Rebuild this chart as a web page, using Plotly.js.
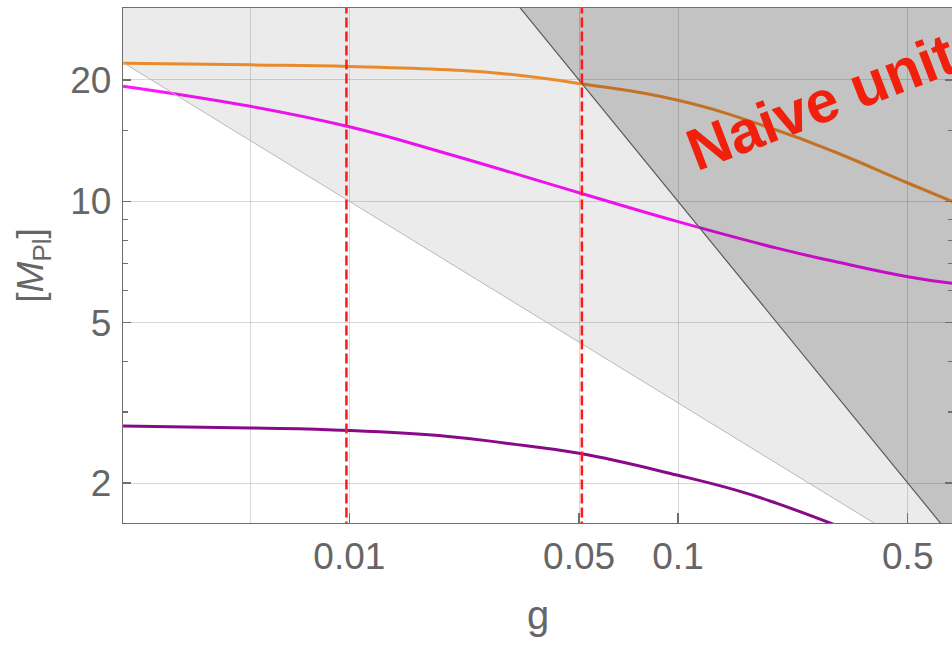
<!DOCTYPE html>
<html>
<head>
<meta charset="utf-8">
<script src="https://cdn.plot.ly/plotly-3.0.1.min.js"></script>
<style>
html, body { margin: 0; padding: 0; overflow: hidden; background: #fff; }
#chart { width: 953px; height: 645px; }
</style>
</head>
<body>
<div id="chart"></div>
<script>
// ---- data (g on x, mass in M_Pl on y, both log) ----
const gOrange = [0.00205, 0.005, 0.01, 0.02, 0.03, 0.05, 0.1, 0.2, 0.3, 0.5, 0.69];
const mOrange = [22.0, 21.8, 21.6, 21.2, 20.7, 19.6, 17.8, 15.0, 13.25, 11.1, 9.95];

const gMagenta = [0.00205, 0.005, 0.01, 0.02, 0.05, 0.1, 0.2, 0.3, 0.5, 0.69];
const mMagenta = [19.3, 17.2, 15.3, 13.1, 10.5, 8.9, 7.65, 7.09, 6.5, 6.25];

const gPurple = [0.00205, 0.005, 0.01, 0.02, 0.03, 0.05, 0.1, 0.15, 0.2, 0.3];
const mPurple = [2.77, 2.74, 2.70, 2.61, 2.51, 2.37, 2.09, 1.92, 1.78, 1.575];

// shaded-region boundaries (straight lines on log-log axes)
const lightEdgeG = [0.0019, 0.45];
const lightEdgeM = [22.94, 1.49];
const darkEdgeG = [0.03, 0.7];
const darkEdgeM = [33.3, 1.4286];
// outer corners (beyond the visible range, clipped)
const outerG = 0.8;
const outerMTop = 35;
const outerMBottom = 1.4;

// vertical dashed reference lines
const gMarks = [0.0098, 0.051];

// ticks
const xTickVals = [0.01, 0.05, 0.1, 0.5];
const xTickText = ['0.01', '0.05', '0.1', '0.5'];
const xGridOnly = [0.005];
const yTickVals = [2, 5, 10, 20];
const yTickText = ['2', '5', '10', '20'];
const yMinorVals = [3, 4, 6, 7, 8, 9, 15];

const FONT = 'Liberation Sans, Arial, Helvetica, sans-serif';
const GREY = '#666666';

const traces = [];
traces.push({x: gOrange, y: mOrange, mode: 'lines', line: {color: '#fd9630', width: 3, shape: 'spline', smoothing: 1.3}, hoverinfo: 'skip'});
traces.push({x: gMagenta, y: mMagenta, mode: 'lines', line: {color: '#ff14ff', width: 3, shape: 'spline', smoothing: 1.3}, hoverinfo: 'skip'});
traces.push({x: gPurple, y: mPurple, mode: 'lines', line: {color: '#880a88', width: 3, shape: 'spline', smoothing: 1.3}, hoverinfo: 'skip'});

// light region: above lightEdge
traces.push({
  x: [lightEdgeG[0], lightEdgeG[1], outerG, outerG, lightEdgeG[0]],
  y: [lightEdgeM[0], lightEdgeM[1], outerMBottom, outerMTop, outerMTop],
  mode: 'lines', fill: 'toself', fillcolor: 'rgba(0,0,0,0.08)',
  line: {color: '#b8b8b8', width: 1}, hoverinfo: 'skip'
});
// dark region: above darkEdge
traces.push({
  x: [darkEdgeG[0], darkEdgeG[1], outerG, outerG, darkEdgeG[0]],
  y: [darkEdgeM[0], darkEdgeM[1], outerMBottom, outerMTop, outerMTop],
  mode: 'lines', fill: 'toself', fillcolor: 'rgba(0,0,0,0.17)',
  line: {color: '#5a5a5a', width: 1.2}, hoverinfo: 'skip'
});
// dashed red verticals
gMarks.forEach(g => {
  traces.push({x: [g, g], y: [outerMBottom, outerMTop], mode: 'lines',
    line: {color: '#ff1a1a', width: 2.5, dash: '10px,4px'}, hoverinfo: 'skip'});
});

const layout = {
  width: 953, height: 645,
  margin: {l: 123, r: 0, t: 8, b: 122},
  paper_bgcolor: '#ffffff', plot_bgcolor: '#ffffff',
  showlegend: false,
  font: {family: FONT, color: GREY, size: 37},
  xaxis: {
    type: 'log', range: [-2.6885, -0.1634], autorange: false,
    tickvals: xTickVals, ticktext: xTickText,
    ticks: 'inside', ticklen: 10, tickwidth: 1.2, tickcolor: '#6e6e6e',
    showline: true, linecolor: '#6e6e6e', linewidth: 1.3, mirror: true,
    showgrid: true, gridcolor: 'rgba(0,0,0,0.15)', gridwidth: 1,
    zeroline: false,
    tickfont: {family: FONT, size: 37, color: GREY},
    ticklabelstandoff: 0,
    minor: {tickvals: xGridOnly, ticks: '', showgrid: true, gridcolor: 'rgba(0,0,0,0.15)', gridwidth: 1},
    title: {text: 'g', font: {family: FONT, size: 40, color: GREY}, standoff: 25}
  },
  yaxis: {
    type: 'log', range: [0.2018, 1.4795], autorange: false,
    tickvals: yTickVals, ticktext: yTickText,
    ticks: 'inside', ticklen: 8, tickwidth: 1.2, tickcolor: '#6e6e6e',
    showline: true, linecolor: '#6e6e6e', linewidth: 1.3, mirror: 'ticks',
    showgrid: true, gridcolor: 'rgba(0,0,0,0.15)', gridwidth: 1,
    zeroline: false,
    tickfont: {family: FONT, size: 37, color: GREY},
    ticklabelstandoff: 3,
    minor: {tickvals: yMinorVals, ticks: 'inside', ticklen: 5, tickwidth: 1.2, tickcolor: '#6e6e6e', showgrid: false},
    title: {text: '[<i>M</i><sub>Pl</sub>]', font: {family: FONT, size: 37, color: GREY}, standoff: 15}
  },
  annotations: [{
    text: 'Naive unitarity', xref: 'x', yref: 'y',
    x: Math.log10(0.41), y: Math.log10(20),
    xanchor: 'center', yanchor: 'middle', showarrow: false,
    textangle: -21,
    font: {family: FONT, size: 59, color: '#f0200c', weight: 'bold'}
  }]
};

Plotly.newPlot('chart', traces, layout, {staticPlot: true, displayModeBar: false});
</script>
</body>
</html>
